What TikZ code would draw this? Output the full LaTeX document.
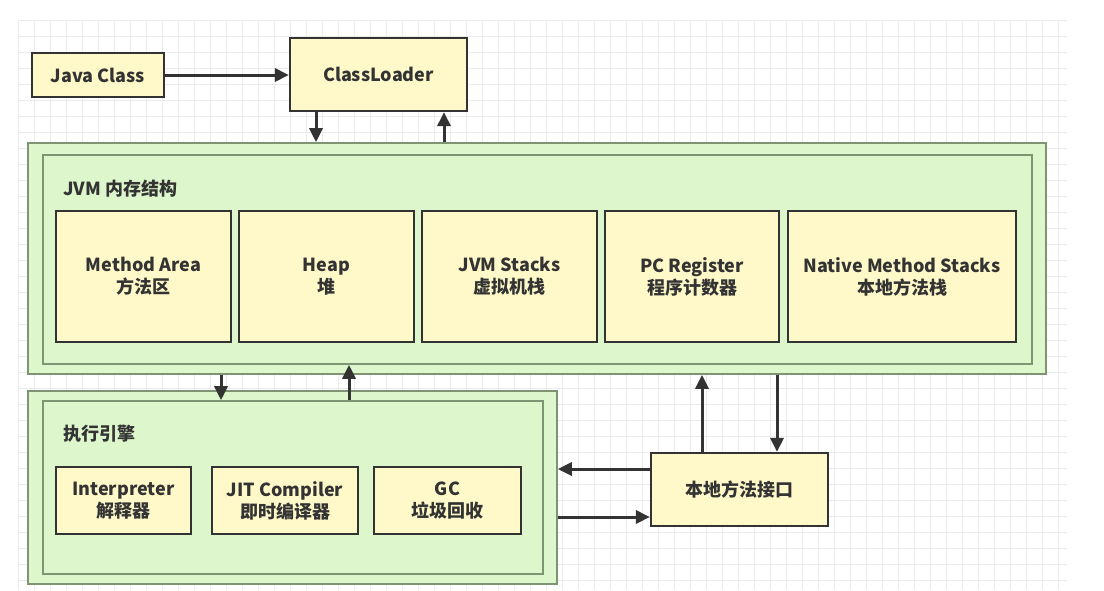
\documentclass[tikz,border=0pt]{standalone}
\usepackage{fontspec}
\setmainfont{Noto Sans CJK SC}
\usepackage{tikz}
\usetikzlibrary{arrows.meta,fit}
\tikzset{>={Triangle[length=7pt,width=6.5pt]}}
\definecolor{memG}{HTML}{DDF6CB}
\definecolor{memGline}{HTML}{7E9472}
\definecolor{boxY}{HTML}{FFF9C9}
\definecolor{ink}{HTML}{333333}
\definecolor{gridc}{HTML}{EBEBEB}
\tikzset{
  ybox/.style={draw=ink,fill=boxY,line width=1.1pt,inner sep=0pt},
  txt/.style={align=center,inner sep=0pt,text=ink,font=\bfseries\fontsize{9}{11}\selectfont},
  gframe/.style={draw=memGline,fill=memG,line width=0.8pt,inner sep=0pt},
  ttl/.style={txt,anchor=west},
  flow/.style={->,draw=ink,line width=1.5pt},
  gline/.style={draw=gridc,line width=0.5pt}
}

\begin{document}
\begin{tikzpicture}[x=0.5pt,y=-0.5pt]
\useasboundingbox (0,0) rectangle (1104,590);
% background grid
\foreach \gx in {18,34,...,1066} \draw[gline] (\gx,20) -- (\gx,590);
\foreach \gy in {20,36,...,588} \draw[gline] (18,\gy) -- (1067,\gy);
% loading
\node[ybox,fit={(32,53)(164,97)},label={[txt]center:Java Class}] (jclass) {};
\node[ybox,fit={(290,38)(467,111)},label={[txt]center:ClassLoader}] (loader) {};
% memory areas
\node[gframe,fit={(28,143)(1046,374)}] (jvm) {};
\node[gframe,fit={(43,155)(1032,364)}] (jvmin) {};
\node[ttl] (jvmttl) at (63,189) {JVM 内存结构};
\node[ybox,fit={(56,211)(231,342)},label={[txt]center:{Method Area\\方法区}}] (marea) {};
\node[ybox,fit={(239,211)(414,342)},label={[txt]center:{Heap\\堆}}] (heap) {};
\node[ybox,fit={(422,211)(597,342)},label={[txt]center:{JVM Stacks\\虚拟机栈}}] (vmstk) {};
\node[ybox,fit={(605,211)(779,342)},label={[txt]center:{PC Register\\程序计数器}}] (pcreg) {};
\node[ybox,fit={(788,211)(1016,342)},label={[txt]center:{Native Method Stacks\\本地方法栈}}] (nstk) {};
% execution engine
\node[gframe,fit={(28,391)(557,584)}] (exe) {};
\node[gframe,fit={(43,401)(543,574)}] (exein) {};
\node[ttl] (exettl) at (63,434) {执行引擎};
\node[ybox,fit={(56,467)(191,534)},label={[txt]center:{Interpreter\\解释器}}] (interp) {};
\node[ybox,fit={(212,467)(358,534)},label={[txt]center:{JIT Compiler\\即时编译器}}] (jit) {};
\node[ybox,fit={(374,467)(521,534)},label={[txt]center:{GC\\垃圾回收}}] (gc) {};
\node[ybox,fit={(651,453)(828,526)},label={[txt]center:本地方法接口}] (jni) {};
% connectors
\coordinate (c1) at (316,0); \coordinate (c2) at (444,0);
\coordinate (c3) at (221,0); \coordinate (c4) at (349,0);
\coordinate (c5) at (702,0); \coordinate (c6) at (777,0);
\coordinate (r1) at (0,469); \coordinate (r2) at (0,517);
\draw[flow] (jclass.east) -- (loader.west |- jclass.east);
\draw[flow] (loader.south -| c1) -- (jvm.north -| c1);
\draw[flow] (jvm.north -| c2) -- (loader.south -| c2);
\draw[flow] (jvm.south -| c3) -- (exein.north -| c3);
\draw[flow] (exein.north -| c4) -- (jvmin.south -| c4);
\draw[flow] (jni.north -| c5) -- (jvm.south -| c5);
\draw[flow] (jvm.south -| c6) -- (jni.north -| c6);
\draw[flow] (jni.west |- r1) -- (exe.east |- r1);
\draw[flow] (exe.east |- r2) -- (jni.west |- r2);
\end{tikzpicture}
\end{document}
